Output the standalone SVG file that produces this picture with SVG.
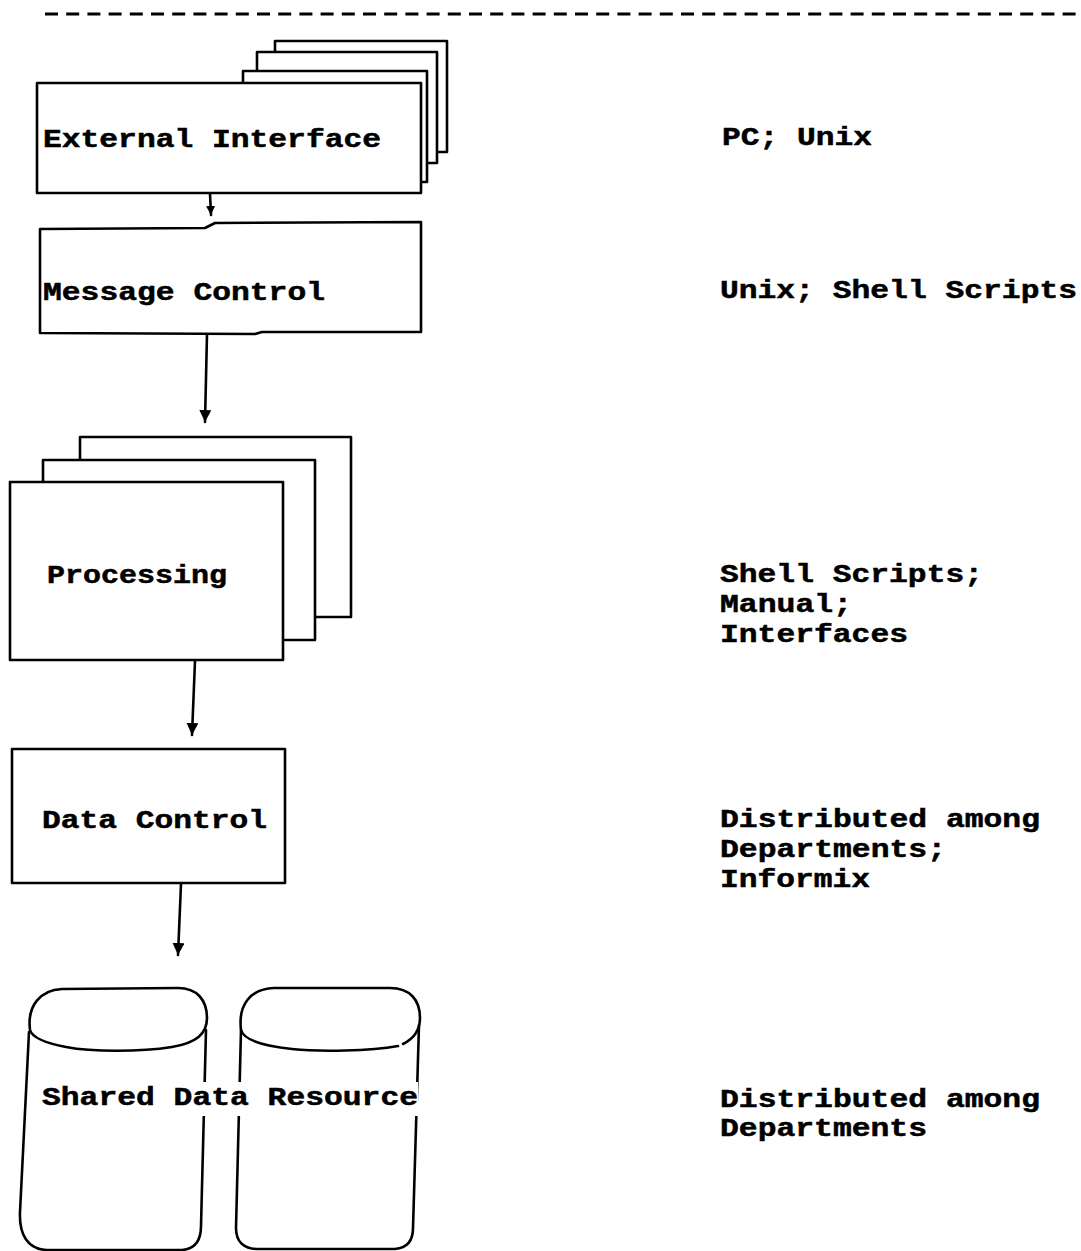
<svg xmlns="http://www.w3.org/2000/svg" width="1081" height="1251" viewBox="0 0 1081 1251">
  <style>
    .box { fill: #ffffff; stroke: #000000; stroke-width: 2.6; stroke-linejoin: round; }
    .line { fill: none; stroke: #000000; stroke-width: 2.6; stroke-linecap: round; stroke-linejoin: round; }
    .lbl { font-family: "Liberation Mono", "DejaVu Sans Mono", monospace; font-weight: bold; font-size: 25px; fill: #000000; stroke: #000000; stroke-width: 0.5; }
  </style>
  <defs>
    <marker id="arrow" markerUnits="userSpaceOnUse" markerWidth="14" markerHeight="16" refX="12" refY="6" orient="auto">
      <path d="M0,0 L12,6 L0,12 Z" fill="#000000"/>
    </marker>
    <marker id="arrowSmall" markerUnits="userSpaceOnUse" markerWidth="12" markerHeight="10" refX="9" refY="4.5" orient="auto">
      <path d="M0,0 L9,4.5 L0,9 Z" fill="#000000"/>
    </marker>
  </defs>

  <rect width="1081" height="1251" fill="#ffffff"/>

  <!-- page rule -->
  <line x1="45" y1="14" x2="1076" y2="14" stroke="#000000" stroke-width="3.2" stroke-dasharray="13 8.2"/>

  <!-- connectors -->
  <g id="connectors">
    <line class="line" x1="210" y1="194" x2="211" y2="215" marker-end="url(#arrowSmall)"/>
    <line class="line" x1="207" y1="334" x2="205" y2="422" marker-end="url(#arrow)"/>
    <line class="line" x1="195" y1="661" x2="192" y2="735" marker-end="url(#arrow)"/>
    <line class="line" x1="181" y1="884" x2="178" y2="955" marker-end="url(#arrow)"/>
  </g>

  <!-- External Interface: stacked sheets -->
  <g id="external-interface">
    <rect class="box" x="275" y="41" width="172" height="111"/>
    <rect class="box" x="257" y="52" width="180" height="111"/>
    <rect class="box" x="243" y="71" width="184" height="111"/>
    <rect class="box" x="37" y="83" width="384" height="110"/>
    <text class="lbl" x="43" y="147" textLength="338" lengthAdjust="spacingAndGlyphs">External Interface</text>
  </g>

  <!-- Message Control -->
  <g id="message-control">
    <path class="box" d="M40,229 L205,228 L215,223 L421,222 L421,332 L262,332 L255,334 L40,333 Z"/>
    <text class="lbl" x="43" y="300" textLength="282" lengthAdjust="spacingAndGlyphs">Message Control</text>
  </g>

  <!-- Processing: stacked sheets -->
  <g id="processing">
    <rect class="box" x="80" y="437" width="271" height="180"/>
    <rect class="box" x="43" y="460" width="272" height="180"/>
    <rect class="box" x="10" y="482" width="273" height="178"/>
    <text class="lbl" x="47" y="583" textLength="180" lengthAdjust="spacingAndGlyphs">Processing</text>
  </g>

  <!-- Data Control -->
  <g id="data-control">
    <rect class="box" x="12" y="749" width="273" height="134"/>
    <text class="lbl" x="42" y="828" textLength="225" lengthAdjust="spacingAndGlyphs">Data Control</text>
  </g>

  <!-- Shared Data Resource: two storage cylinders -->
  <g id="shared-data-resource">
    <path class="line" d="M29,1032 L20,1212 C19,1235 28,1249 46,1250 L182,1250 C196,1249 201,1240 201,1226 L206,1030"/>
    <path class="line" d="M30,1030 C27,1006 40,990 62,989 L178,988 C197,988 207,1000 207,1018 C207,1034 196,1043 172,1047 C140,1052 92,1052 66,1047 C45,1043 32,1037 30,1030 Z"/>
    <path class="line" d="M241,1030 L236,1228 C236,1242 244,1249 258,1249 L395,1249 C408,1248 413,1240 413,1228 L419,1025"/>
    <path class="line" d="M241,1030 C238,1005 250,989 274,988 L390,988 C410,988 420,1000 420,1018 C420,1030 413,1039 403,1044 M398,1046 C370,1051 320,1052 292,1049 C262,1046 244,1040 241,1030"/>
    <rect x="40" y="1082" width="378" height="34" fill="#ffffff"/>
    <text class="lbl" x="42" y="1105" textLength="376" lengthAdjust="spacingAndGlyphs">Shared Data Resource</text>
  </g>

  <!-- platform notes -->
  <g id="notes">
    <text class="lbl" x="722" y="145" textLength="150" lengthAdjust="spacingAndGlyphs">PC; Unix</text>
    <text class="lbl" x="720" y="298" textLength="357" lengthAdjust="spacingAndGlyphs">Unix; Shell Scripts</text>
    <text class="lbl" x="720" y="582" textLength="263" lengthAdjust="spacingAndGlyphs">Shell Scripts;</text>
    <text class="lbl" x="720" y="612" textLength="132" lengthAdjust="spacingAndGlyphs">Manual;</text>
    <text class="lbl" x="720" y="642" textLength="188" lengthAdjust="spacingAndGlyphs">Interfaces</text>
    <text class="lbl" x="720" y="827" textLength="320" lengthAdjust="spacingAndGlyphs">Distributed among</text>
    <text class="lbl" x="720" y="857" textLength="226" lengthAdjust="spacingAndGlyphs">Departments;</text>
    <text class="lbl" x="720" y="887" textLength="150" lengthAdjust="spacingAndGlyphs">Informix</text>
    <text class="lbl" x="720" y="1107" textLength="320" lengthAdjust="spacingAndGlyphs">Distributed among</text>
    <text class="lbl" x="720" y="1136" textLength="207" lengthAdjust="spacingAndGlyphs">Departments</text>
  </g>
</svg>
